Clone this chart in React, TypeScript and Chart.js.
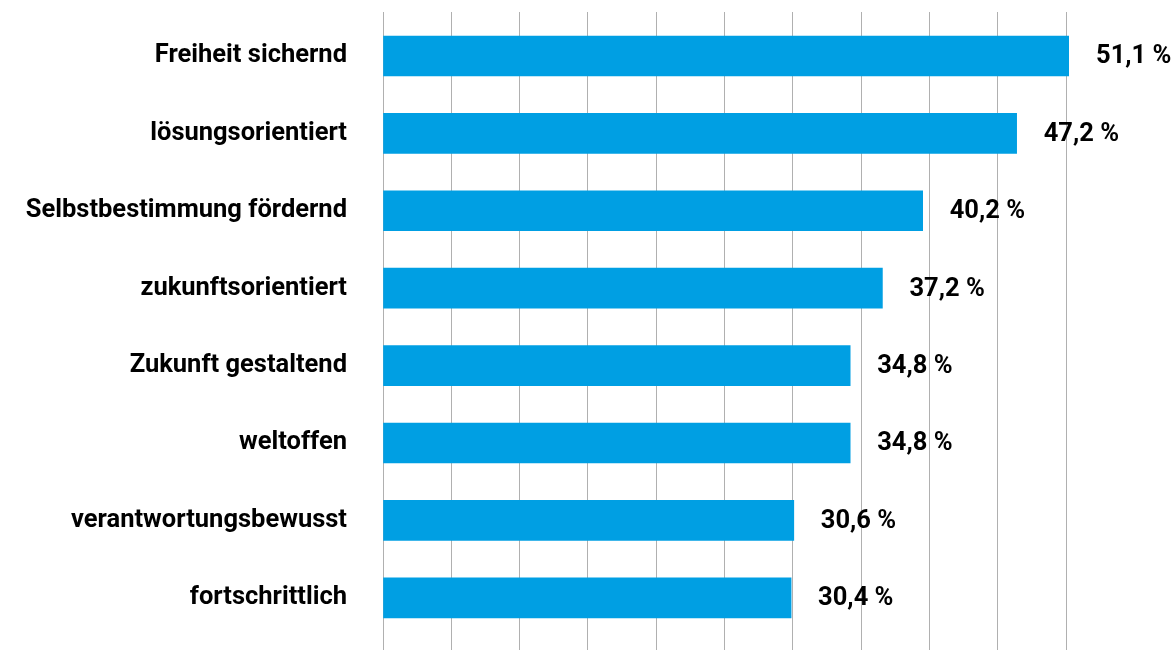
import React, { useEffect, useRef } from 'react';
import { Chart, registerables } from 'chart.js';

Chart.register(...registerables);

const categories = [
  'Freiheit sichernd',
  'lösungsorientiert',
  'Selbstbestimmung fördernd',
  'zukunftsorientiert',
  'Zukunft gestaltend',
  'weltoffen',
  'verantwortungsbewusst',
  'fortschrittlich',
];
const values = [51.1, 47.2, 40.2, 37.2, 34.8, 34.8, 30.6, 30.4];
const valueLabels = ['51,1 %', '47,2 %', '40,2 %', '37,2 %', '34,8 %', '34,8 %', '30,6 %', '30,4 %'];
const gridValues = [0, 5.09, 10.18, 15.27, 20.36, 25.45, 30.54, 35.63, 40.72, 45.81, 50.9];

const FONT_FAMILY = 'Roboto, "Noto Sans", sans-serif';
const FONT_SIZE = 25.5;

export default function App() {
  const ref = useRef<HTMLCanvasElement | null>(null);

  useEffect(() => {
    if (!ref.current) return;
    const valueLabelPlugin = {
      id: 'valueLabels',
      afterDatasetsDraw(chart: any) {
        const ctx = chart.ctx;
        const meta = chart.getDatasetMeta(0);
        ctx.save();
        ctx.fillStyle = '#000';
        ctx.font = `bold ${FONT_SIZE}px ${FONT_FAMILY}`;
        ctx.textAlign = 'left';
        ctx.textBaseline = 'middle';
        meta.data.forEach((el: any, i: number) => {
          ctx.fillText(valueLabels[i], el.x + 27, el.y + 1);
        });
        ctx.restore();
      },
    };

    const chart = new Chart(ref.current, {
      type: 'bar',
      data: {
        datasets: [
          {
            data: values.map((v, i) => ({ x: v, y: i })) as any,
            backgroundColor: '#009FE3',
            borderWidth: 0,
            barThickness: 40,
          },
        ],
      },
      options: {
        indexAxis: 'y',
        animation: false,
        responsive: true,
        maintainAspectRatio: false,
        layout: { padding: { top: 12, right: 105, bottom: 0, left: 0 } },
        plugins: { legend: { display: false }, tooltip: { enabled: false } },
        scales: {
          x: {
            type: 'linear',
            min: 0,
            max: 51.1,
            afterBuildTicks: (scale: any) => {
              scale.ticks = gridValues.map((v) => ({ value: v }));
            },
            ticks: { display: false },
            grid: { color: '#b0b0b0', lineWidth: 1, drawTicks: false },
            border: { display: false },
          },
          y: {
            type: 'linear',
            reverse: true,
            offset: false,
            min: -0.568,
            max: 7.674,
            afterBuildTicks: (scale: any) => {
              scale.ticks = categories.map((_, i) => ({ value: i }));
            },
            afterFit: (scale: any) => {
              scale.width = 383;
              scale.paddingTop = 0;
              scale.paddingBottom = 0;
            },
            ticks: {
              autoSkip: false,
              padding: 0,
              color: '#000',
              font: { family: FONT_FAMILY, size: FONT_SIZE, weight: 'bold' },
              callback: (v: any) => categories[v as number] ?? '',
            },
            grid: { display: false, offset: false, drawTicks: true, tickLength: 36 },
            border: { display: false },
          },
        },
      },
      plugins: [valueLabelPlugin],
    });
    return () => chart.destroy();
  }, []);

  return (
    <div style={{ position: 'fixed', left: 0, top: 0, width: 1174, height: 650, background: '#fff' }}>
      <canvas ref={ref} />
    </div>
  );
}
